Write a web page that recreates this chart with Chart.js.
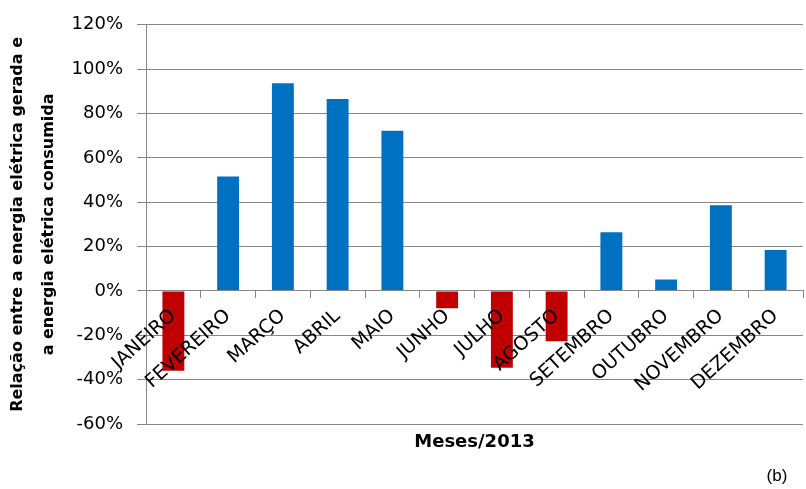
<!DOCTYPE html>
<html>
<head>
<meta charset="utf-8">
<script src="https://cdn.jsdelivr.net/npm/chart.js@4.4.1/dist/chart.umd.min.js"></script>
<style>
  html, body { margin: 0; padding: 0; background: #fff; }
  #wrap { width: 806px; height: 489px; }
</style>
</head>
<body>
<div id="wrap"><canvas id="myChart-Energia" width="806" height="489"></canvas></div>
<script>
const meses = ['JANEIRO', 'FEVEREIRO', 'MARÇO', 'ABRIL', 'MAIO', 'JUNHO',
  'JULHO', 'AGOSTO', 'SETEMBRO', 'OUTUBRO', 'NOVEMBRO', 'DEZEMBRO'];
const relacao = [-36, 51.6, 93.6, 86.5, 72.2, -7.8, -34.6, -22.7, 26.5, 5.2, 38.6, 18.5];
const tituloY = ['Relação entre a energia elétrica gerada e', 'a energia elétrica consumida'];
const tituloX = 'Meses/2013';
const legenda = '(b)';

const gray = '#878787';
const fonte = '"DejaVu Sans", sans-serif';

const textos = {
  id: 'textos',
  afterDraw(chart) {
    const ctx = chart.ctx;
    const area = chart.chartArea;
    ctx.save();
    ctx.fillStyle = '#000';
    ctx.textAlign = 'center';
    ctx.textBaseline = 'middle';
    ctx.font = 'bold 18px ' + fonte;
    ctx.fillText(tituloX, (area.left + area.right) / 2, 442);
    ctx.font = '17px "Liberation Sans", Arial, sans-serif';
    ctx.fillText(legenda, 777, 476);
    ctx.restore();
  }
};

new Chart(document.getElementById('myChart-Energia'), {
  type: 'bar',
  data: {
    labels: meses,
    datasets: [{
      label: 'Relação',
      data: relacao,
      backgroundColor: relacao.map(v => v < 0 ? '#C00000' : '#0070C0'),
      barPercentage: 0.4,
      categoryPercentage: 1
    }]
  },
  options: {
    responsive: false,
    animation: false,
    layout: { padding: { top: 10, bottom: 65, left: 0, right: 3 } },
    plugins: {
      legend: { display: false },
      tooltip: { enabled: false }
    },
    scales: {
      x: {
        position: { y: 0 },
        grid: { display: true, drawOnChartArea: false, drawTicks: true, tickLength: 7, color: gray, offset: true, z: 1 },
        border: { display: true, color: gray, width: 1, z: 1 },
        ticks: {
          z: 1,
          color: '#000',
          font: { family: fonte, size: 19 },
          minRotation: 42,
          maxRotation: 42,
          padding: 7,
          autoSkip: false
        }
      },
      y: {
        min: -60,
        max: 120,
        afterFit(scale) { scale.width = 146; },
        grid: { color: gray, tickLength: 9, drawTicks: true },
        border: { display: true, color: gray },
        ticks: {
          stepSize: 20,
          color: '#000',
          padding: 14,
          font: { family: fonte, size: 18 },
          callback: v => v + '%'
        },
        title: {
          display: true,
          text: tituloY,
          color: '#000',
          font: { family: fonte, size: 16, weight: 'bold', lineHeight: 1.95 },
          padding: { top: 2, bottom: 0 }
        }
      }
    }
  },
  plugins: [textos]
});
</script>
</body>
</html>
